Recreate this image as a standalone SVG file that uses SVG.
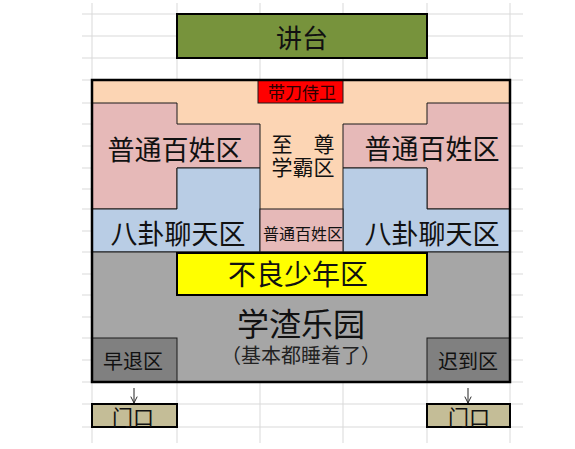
<svg xmlns="http://www.w3.org/2000/svg" width="575" height="449" viewBox="0 0 575 449">
<style>
.grid{stroke:#d9d9d9;stroke-width:1;fill:none}
.zone{stroke:#1a1a1a;stroke-width:1}
.box{stroke:#000;stroke-width:2}
text{font-family:"Noto Sans CJK SC","Noto Sans",sans-serif;fill:#111;text-anchor:middle;dominant-baseline:central}
.conn{stroke:#222;stroke-width:1;fill:none}
</style>
<defs>
<marker id="ah" viewBox="0 0 10 10" refX="9" refY="5" markerWidth="8" markerHeight="8" orient="auto" markerUnits="userSpaceOnUse">
<path d="M1,1 L9,5 L1,9" fill="none" stroke="#222" stroke-width="1.2"/>
</marker>
</defs>
<rect width="575" height="449" fill="#fff"/>
<g id="grid" class="grid">
<path d="M82,14H523M82,36H523M82,58H523M82,80H523M82,103H523M82,124H523M82,146H523M82,168H523M82,189H523M82,209H523M82,231H523M82,252H523M82,274H523M82,295H523M82,317H523M82,338H523M82,360H523M82,382H523M82,404H523M82,427H523"/>
<path d="M92,3V443M177,3V443M260,3V443M343,3V443M427,3V443M510,3V443"/>
</g>
<g id="podium">
<rect x="177" y="14" width="250" height="44" fill="#77933C" class="box"/>
<text x="302" y="36" font-size="26">讲台</text>
</g>
<g id="hall">
<rect x="92" y="80" width="418" height="302" fill="#FCD5B4"/>
</g>
<g id="left-commoners">
<polygon points="92,103 177,103 177,124 260,124 260,168 177,168 177,209 92,209" fill="#E6B9B8" class="zone"/>
<text x="175" y="148" font-size="27">普通百姓区</text>
</g>
<g id="right-commoners">
<polygon points="427,103 510,103 510,209 427,209 427,168 343,168 343,124 427,124" fill="#E6B9B8" class="zone"/>
<text x="432" y="147" font-size="27">普通百姓区</text>
</g>
<g id="left-gossip">
<polygon points="177,168 260,168 260,252 92,252 92,209 177,209" fill="#B9CDE5" class="zone"/>
<text x="178" y="232" font-size="27">八卦聊天区</text>
</g>
<g id="right-gossip">
<polygon points="343,168 427,168 427,209 510,209 510,252 343,252" fill="#B9CDE5" class="zone"/>
<text x="432" y="232" font-size="27">八卦聊天区</text>
</g>
<g id="top-scholar">
<text x="303" y="143" font-size="21">至　尊</text>
<text x="303" y="166" font-size="21">学霸区</text>
</g>
<g id="center-commoners">
<rect x="260" y="209" width="83" height="43" fill="#E6B9B8" class="zone"/>
<text x="303" y="233" font-size="16">普通百姓区</text>
</g>
<g id="guards">
<rect x="258" y="80" width="85" height="23" fill="#FF0000" class="zone"/>
<text x="302" y="91.5" font-size="17" style="fill:#2a0000">带刀侍卫</text>
</g>
<g id="slacker-park">
<rect x="92" y="252" width="418" height="130" fill="#A6A6A6" class="zone"/>
<text x="301" y="322" font-size="32">学渣乐园</text>
<text x="301" y="354" font-size="20" style="fill:#222">（基本都睡着了）</text>
</g>
<g id="delinquents">
<rect x="177" y="253" width="250" height="42" fill="#FFFF00" class="box"/>
<text x="298" y="273" font-size="28">不良少年区</text>
</g>
<g id="leave-early">
<rect x="92" y="338" width="85" height="44" fill="#808080" class="zone"/>
<text x="133" y="360" font-size="20">早退区</text>
</g>
<g id="late">
<rect x="427" y="338" width="83" height="44" fill="#808080" class="zone"/>
<text x="468" y="360" font-size="20">迟到区</text>
</g>
<rect x="92" y="80" width="418" height="302" fill="none" stroke="#000" stroke-width="2.5"/>
<g id="door-left">
<rect x="92" y="404" width="85" height="23" fill="#C4BD97" class="box"/>
<text x="133" y="416" font-size="21">门口</text>
</g>
<g id="door-right">
<rect x="427" y="404" width="83" height="23" fill="#C4BD97" class="box"/>
<text x="469" y="416" font-size="21">门口</text>
</g>
<g id="connectors">
<line x1="134" y1="388" x2="134" y2="403" class="conn" marker-end="url(#ah)"/>
<line x1="468" y1="388" x2="468" y2="403" class="conn" marker-end="url(#ah)"/>
</g>
</svg>
